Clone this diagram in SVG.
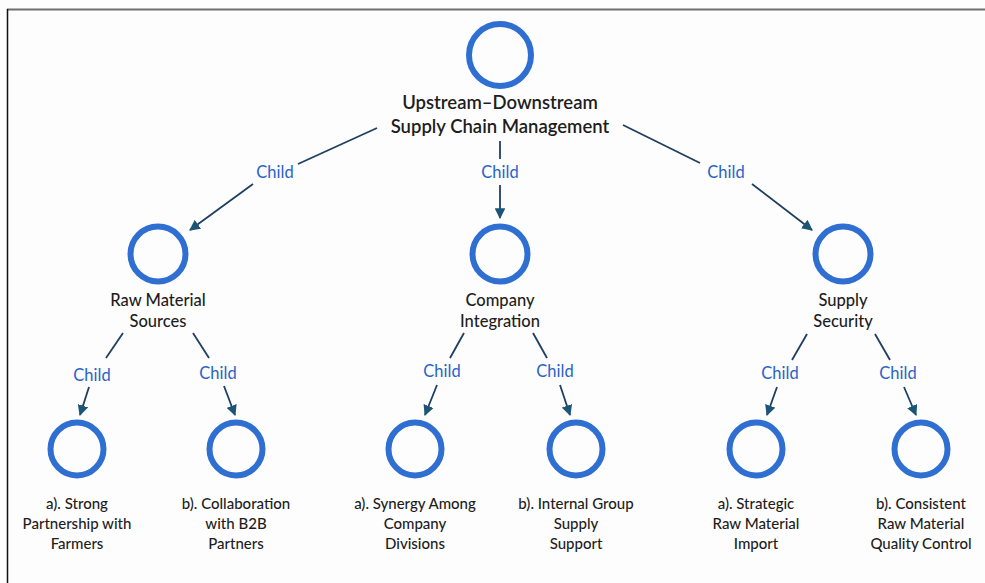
<svg xmlns="http://www.w3.org/2000/svg" width="985" height="583" viewBox="0 0 985 583">
  <defs>
    <marker id="arr" viewBox="0 0 10 10" refX="9" refY="5" markerWidth="6" markerHeight="6" markerUnits="strokeWidth" orient="auto">
      <path d="M0,0 L10,5 L0,10 z" fill="#1d5577"/>
    </marker>
    <style>
      .node { fill: none; stroke: #2f6fd1; stroke-width: 6; }
      .lbl { font-family: Lato, "Open Sans", sans-serif; fill: #1e1e1e; text-anchor: middle; }
      .root { font-size: 18.5px; font-weight: 600; }
      .mid { font-size: 16.5px; font-weight: 500; }
      .leaf { font-size: 15px; font-weight: 500; }
      .edge { stroke: #1f3f60; stroke-width: 1.8; fill: none; }
      .cl { font-family: Lato, "Open Sans", sans-serif; font-size: 16.5px; fill: #2a62c9; text-anchor: middle; }
    </style>
  </defs>
  <rect width="985" height="583" fill="#fdfdfd"/>
  <line x1="7" y1="9.5" x2="985" y2="9.5" stroke="#6e6e6e" stroke-width="2"/>
  <line x1="7.5" y1="9" x2="7.5" y2="583" stroke="#111" stroke-width="1.5"/>

  <g id="connectors">
    <line class="edge" x1="377" y1="128" x2="298" y2="164"/>
    <line class="edge" x1="253" y1="184" x2="190" y2="230" marker-end="url(#arr)"/>
    <text class="cl" x="275" y="178">Child</text>
    <line class="edge" x1="500" y1="141" x2="500" y2="159"/>
    <line class="edge" x1="500" y1="185" x2="500" y2="218" marker-end="url(#arr)"/>
    <text class="cl" x="500" y="178">Child</text>
    <line class="edge" x1="623" y1="125" x2="700" y2="163"/>
    <line class="edge" x1="752" y1="184" x2="812" y2="230" marker-end="url(#arr)"/>
    <text class="cl" x="726" y="178">Child</text>

    <line class="edge" x1="123" y1="333" x2="106" y2="358"/>
    <line class="edge" x1="89" y1="387" x2="80" y2="415" marker-end="url(#arr)"/>
    <text class="cl" x="92" y="381">Child</text>
    <line class="edge" x1="193" y1="333" x2="209" y2="358"/>
    <line class="edge" x1="224" y1="386" x2="235" y2="415" marker-end="url(#arr)"/>
    <text class="cl" x="218" y="379">Child</text>

    <line class="edge" x1="464" y1="333" x2="450" y2="358"/>
    <line class="edge" x1="437" y1="385" x2="425" y2="415" marker-end="url(#arr)"/>
    <text class="cl" x="442" y="377">Child</text>
    <line class="edge" x1="533" y1="333" x2="547" y2="358"/>
    <line class="edge" x1="560" y1="385" x2="570" y2="415" marker-end="url(#arr)"/>
    <text class="cl" x="555" y="377">Child</text>

    <line class="edge" x1="807" y1="334" x2="792" y2="360"/>
    <line class="edge" x1="777" y1="387" x2="767" y2="415" marker-end="url(#arr)"/>
    <text class="cl" x="780" y="379">Child</text>
    <line class="edge" x1="875" y1="334" x2="890" y2="360"/>
    <line class="edge" x1="904" y1="387" x2="916" y2="415" marker-end="url(#arr)"/>
    <text class="cl" x="898" y="379">Child</text>
  </g>

  <g id="root">
    <circle class="node" cx="500" cy="55" r="31"/>
    <text class="lbl root" x="500" y="109">Upstream–Downstream</text>
    <text class="lbl root" x="500" y="133">Supply Chain Management</text>
  </g>

  <g id="raw-material">
    <circle class="node" cx="158" cy="254" r="27.5"/>
    <text class="lbl mid" x="158" y="306">Raw Material</text>
    <text class="lbl mid" x="158" y="327">Sources</text>
  </g>
  <g id="company-integration">
    <circle class="node" cx="500" cy="254" r="27.5"/>
    <text class="lbl mid" x="500" y="306">Company</text>
    <text class="lbl mid" x="500" y="327">Integration</text>
  </g>
  <g id="supply-security">
    <circle class="node" cx="843" cy="254" r="27.5"/>
    <text class="lbl mid" x="843" y="306">Supply</text>
    <text class="lbl mid" x="843" y="327">Security</text>
  </g>

  <g id="leaf-a1">
    <circle class="node" cx="77" cy="449" r="26.5"/>
    <text class="lbl leaf" x="77" y="509">a). Strong</text>
    <text class="lbl leaf" x="77" y="529">Partnership with</text>
    <text class="lbl leaf" x="77" y="549">Farmers</text>
  </g>
  <g id="leaf-b1">
    <circle class="node" cx="236" cy="449" r="26.5"/>
    <text class="lbl leaf" x="236" y="509">b). Collaboration</text>
    <text class="lbl leaf" x="236" y="529">with B2B</text>
    <text class="lbl leaf" x="236" y="549">Partners</text>
  </g>
  <g id="leaf-a2">
    <circle class="node" cx="415" cy="449" r="26.5"/>
    <text class="lbl leaf" x="415" y="509">a). Synergy Among</text>
    <text class="lbl leaf" x="415" y="529">Company</text>
    <text class="lbl leaf" x="415" y="549">Divisions</text>
  </g>
  <g id="leaf-b2">
    <circle class="node" cx="576" cy="449" r="26.5"/>
    <text class="lbl leaf" x="576" y="509">b). Internal Group</text>
    <text class="lbl leaf" x="576" y="529">Supply</text>
    <text class="lbl leaf" x="576" y="549">Support</text>
  </g>
  <g id="leaf-a3">
    <circle class="node" cx="756" cy="449" r="26.5"/>
    <text class="lbl leaf" x="756" y="509">a). Strategic</text>
    <text class="lbl leaf" x="756" y="529">Raw Material</text>
    <text class="lbl leaf" x="756" y="549">Import</text>
  </g>
  <g id="leaf-b3">
    <circle class="node" cx="921" cy="449" r="26.5"/>
    <text class="lbl leaf" x="921" y="509">b). Consistent</text>
    <text class="lbl leaf" x="921" y="529">Raw Material</text>
    <text class="lbl leaf" x="921" y="549">Quality Control</text>
  </g>
</svg>
